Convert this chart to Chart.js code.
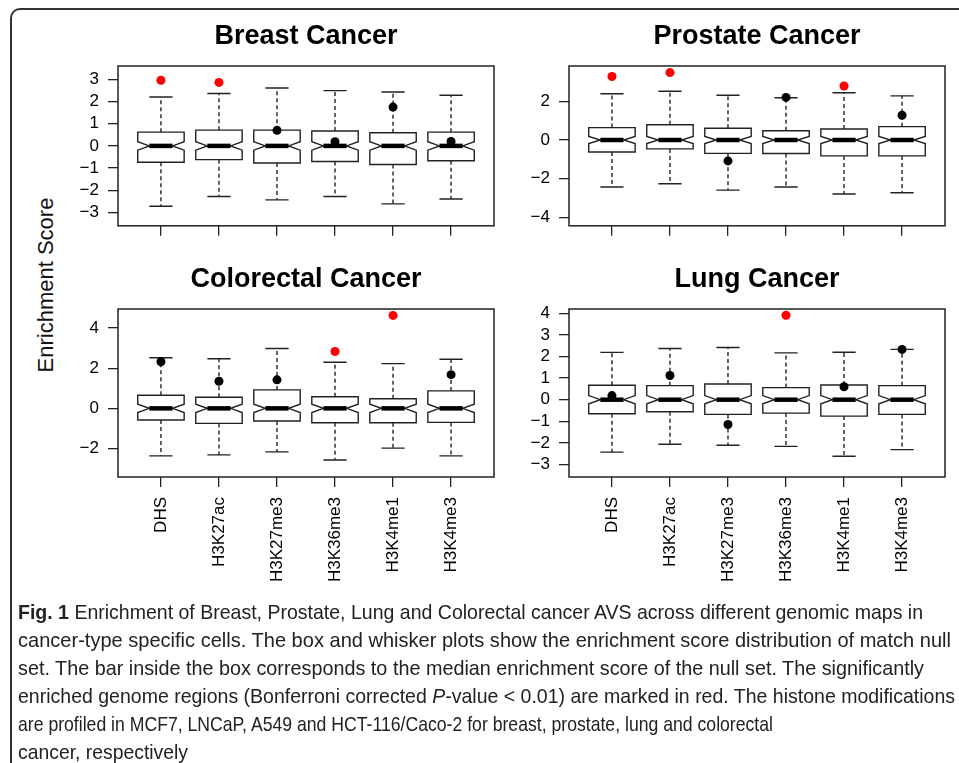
<!DOCTYPE html>
<html>
<head>
<meta charset="utf-8">
<script src="https://cdn.jsdelivr.net/npm/chart.js@4.4.1/dist/chart.umd.min.js"></script>
<style>
  body { margin: 0; background: #fff; width: 959px; height: 763px; overflow: hidden; position: relative; }
  #frame { position: absolute; left: 10px; top: 8px; width: 1000px; height: 800px; border: 2px solid #333; border-radius: 10px; }
  canvas { position: absolute; }
  #ylab { position: absolute; left: 46px; top: 285px; transform: translate(-50%, -50%) rotate(-90deg); font: 22px "Liberation Sans", Arial, sans-serif; color: #111; white-space: nowrap; }
  #caption { position: absolute; left: 18px; top: 598px; font-size: 21px; line-height: 28px; color: #222;
    font-family: "Liberation Sans", Arial, sans-serif; }
  #caption div { white-space: nowrap; height: 28px; }
  #caption span { display: inline-block; transform-origin: 0 50%; }
</style>
</head>
<body>
<div id="frame"></div>
<div id="ylab">Enrichment Score</div>
<canvas id="breast" width="496" height="235" style="left:58px; top:10px"></canvas>
<canvas id="prostate" width="496" height="235" style="left:509px; top:10px"></canvas>
<canvas id="colorectal" width="496" height="350" style="left:58px; top:250px"></canvas>
<canvas id="lung" width="496" height="350" style="left:509px; top:250px"></canvas>
<div id="caption">
  <div><span data-w="905"><b>Fig. 1</b> Enrichment of Breast, Prostate, Lung and Colorectal cancer AVS across different genomic maps in</span></div>
  <div><span data-w="933">cancer-type specific cells. The box and whisker plots show the enrichment score distribution of match null</span></div>
  <div><span data-w="906">set. The bar inside the box corresponds to the median enrichment score of the null set. The significantly</span></div>
  <div><span data-w="937">enriched genome regions (Bonferroni corrected <i>P</i>-value &lt; 0.01) are marked in red. The histone modifications</span></div>
  <div><span data-w="755">are profiled in MCF7, LNCaP, A549 and HCT-116/Caco-2 for breast, prostate, lung and colorectal</span></div>
  <div><span data-w="170">cancer, respectively</span></div>
</div>
<script>
// genomic maps (x categories)
const mapNames = ["DHS", "H3K27ac", "H3K27me3", "H3K36me3", "H3K4me1", "H3K4me3"];

// null set boxes: [lower whisker, Q1, median, Q3, upper whisker]
const breastBox = [[-2.72, -0.74, 0, 0.62, 2.20], [-2.28, -0.62, 0, 0.71, 2.36], [-2.43, -0.77, 0, 0.71, 2.61],
                   [-2.28, -0.70, 0, 0.67, 2.49], [-2.61, -0.84, 0, 0.59, 2.43], [-2.39, -0.67, 0, 0.62, 2.28]];
const prostateBox = [[-2.43, -0.62, 0, 0.64, 2.39], [-2.26, -0.46, 0, 0.79, 2.52], [-2.59, -0.69, 0, 0.61, 2.31],
                     [-2.43, -0.70, 0, 0.48, 2.18], [-2.79, -0.82, 0, 0.57, 2.44], [-2.72, -0.82, 0, 0.69, 2.28]];
const colorectalBox = [[-2.37, -0.58, 0, 0.65, 2.52], [-2.32, -0.75, 0, 0.55, 2.47], [-2.17, -0.63, 0, 0.92, 2.98],
                       [-2.57, -0.72, 0, 0.58, 2.30], [-1.98, -0.72, 0, 0.48, 2.23], [-2.37, -0.70, 0, 0.87, 2.45]];
const lungBox = [[-2.43, -0.65, 0, 0.67, 2.19], [-2.06, -0.56, 0, 0.65, 2.37], [-2.11, -0.68, 0, 0.73, 2.42],
                 [-2.16, -0.62, 0, 0.56, 2.17], [-2.62, -0.76, 0, 0.68, 2.20], [-2.31, -0.68, 0, 0.65, 2.33]];

// notch half heights
const notchSize = { breast: 0.19, prostate: 0.18, colorectal: 0.21, lung: 0.19 };

// observed AVS enrichment scores
const breastScore = [2.96, 2.86, 0.70, 0.19, 1.75, 0.20];
const prostateScore = [3.28, 3.48, -1.08, 2.20, 2.79, 1.28];
const colorectalScore = [2.32, 1.35, 1.42, 2.83, 4.63, 1.68];
const lungScore = [0.19, 1.12, -1.15, 3.91, 0.60, 2.33];

// significant after Bonferroni (red)
const breastSig = [1, 1, 0, 0, 0, 0];
const prostateSig = [1, 1, 0, 0, 1, 0];
const colorectalSig = [0, 0, 0, 1, 1, 0];
const lungSig = [0, 0, 0, 1, 0, 0];

// y tick labels
const breastTicks = [-3, -2, -1, 0, 1, 2, 3];
const prostateTicks = [-4, -2, 0, 2];
const colorectalTicks = [-2, 0, 2, 4];
const lungTicks = [-3, -2, -1, 0, 1, 2, 3, 4];

const fontFam = '"Liberation Sans", Arial, Helvetica, sans-serif';
const lineCol = '#222';

const notchedBoxes = {
  id: 'notchedBoxes',
  beforeDatasetsDraw(chart) {
    const ctx = chart.ctx;
    const xs = chart.scales.x, ys = chart.scales.y, a = chart.chartArea;
    const ds = chart.data.datasets[0];
    ctx.save();
    ctx.strokeStyle = lineCol;
    ctx.lineWidth = 1.5;
    ctx.strokeRect(a.left, a.top, a.right - a.left, a.bottom - a.top);
    ds.boxes.forEach(function(b, i) {
      const x = xs.getPixelForValue(i + 1);
      const hw = xs.getPixelForValue(i + 1.4) - x;
      const nw = hw / 2;
      const lo = ys.getPixelForValue(b[0]), q1 = ys.getPixelForValue(b[1]);
      const med = ys.getPixelForValue(b[2]), q3 = ys.getPixelForValue(b[3]);
      const hi = ys.getPixelForValue(b[4]);
      const nHi = ys.getPixelForValue(b[2] + ds.notch), nLo = ys.getPixelForValue(b[2] - ds.notch);
      ctx.lineWidth = 1.4;
      // whiskers
      ctx.setLineDash([4, 3]);
      ctx.beginPath();
      ctx.moveTo(x, q3); ctx.lineTo(x, hi);
      ctx.moveTo(x, q1); ctx.lineTo(x, lo);
      ctx.stroke();
      ctx.setLineDash([]);
      ctx.beginPath();
      ctx.moveTo(x - nw, hi); ctx.lineTo(x + nw, hi);
      ctx.moveTo(x - nw, lo); ctx.lineTo(x + nw, lo);
      ctx.stroke();
      // notched box
      ctx.beginPath();
      ctx.moveTo(x - hw, q3); ctx.lineTo(x + hw, q3); ctx.lineTo(x + hw, nHi);
      ctx.lineTo(x + nw, med); ctx.lineTo(x + hw, nLo); ctx.lineTo(x + hw, q1);
      ctx.lineTo(x - hw, q1); ctx.lineTo(x - hw, nLo); ctx.lineTo(x - nw, med);
      ctx.lineTo(x - hw, nHi); ctx.closePath();
      ctx.fillStyle = '#fff';
      ctx.fill();
      ctx.stroke();
      // median bar
      ctx.lineWidth = 4.5;
      ctx.strokeStyle = '#000';
      ctx.beginPath();
      ctx.moveTo(x - nw, med); ctx.lineTo(x + nw, med);
      ctx.stroke();
      ctx.strokeStyle = lineCol;
    });
    ctx.restore();
  }
};

function minusLabel(v) {
  return v < 0 ? '\u2212' + Math.abs(v) : String(v);
}

function makePanel(id, title, boxes, notch, scores, sig, ticks, ymin, ymax, bottomRow) {
  const padTop = bottomRow ? 13.8 : 10.8;
  new Chart(document.getElementById(id), {
    type: 'scatter',
    data: {
      datasets: [{
        data: scores.map(function(v, i) { return { x: i + 1, y: v }; }),
        boxes: boxes,
        notch: notch,
        pointRadius: 4.5,
        pointBorderWidth: 0,
        pointBackgroundColor: sig.map(function(s) { return s ? '#ff0000' : '#000000'; })
      }]
    },
    options: {
      responsive: false,
      animation: false,
      events: [],
      devicePixelRatio: 1,
      layout: { padding: 0 },
      plugins: {
        legend: { display: false },
        tooltip: { enabled: false },
        title: {
          display: true,
          text: title,
          color: '#000',
          font: { family: fontFam, size: 27, weight: 'bold', lineHeight: 1.2 },
          padding: { top: padTop, bottom: 12.8 }
        }
      },
      scales: {
        x: {
          type: 'linear',
          min: 0.26,
          max: 6.74,
          afterBuildTicks: function(s) { s.ticks = mapNames.map(function(n, i) { return { value: i + 1 }; }); },
          afterFit: function(s) { s.height = bottomRow ? 123 : 12; },
          border: { display: false },
          grid: { drawOnChartArea: false, drawTicks: true, tickLength: 10, color: lineCol, lineWidth: 1.3 },
          ticks: {
            display: bottomRow,
            autoSkip: false,
            minRotation: 90,
            maxRotation: 90,
            padding: 10,
            color: '#000',
            font: { family: fontFam, size: 17 },
            callback: function(v) { return mapNames[v - 1]; }
          }
        },
        y: {
          min: ymin,
          max: ymax,
          afterBuildTicks: function(s) { s.ticks = ticks.map(function(t) { return { value: t }; }); },
          afterFit: function(s) { s.width = 60; },
          border: { display: false },
          grid: { drawOnChartArea: false, drawTicks: true, tickLength: 10, color: lineCol, lineWidth: 1.3 },
          ticks: {
            padding: 9,
            color: '#000',
            font: { family: fontFam, size: 17 },
            callback: minusLabel
          }
        },
        // empty right-hand axis, same width as the left one, so the title sits over the plot box
        spacer: {
          type: 'linear',
          position: 'right',
          afterFit: function(s) { s.width = 60; },
          border: { display: false },
          grid: { display: false },
          ticks: { display: false }
        }
      }
    },
    plugins: [notchedBoxes]
  });
}

makePanel('breast', 'Breast Cancer', breastBox, notchSize.breast, breastScore, breastSig, breastTicks, -3.6, 3.6, false);
makePanel('prostate', 'Prostate Cancer', prostateBox, notchSize.prostate, prostateScore, prostateSig, prostateTicks, -4.43, 3.82, false);
makePanel('colorectal', 'Colorectal Cancer', colorectalBox, notchSize.colorectal, colorectalScore, colorectalSig, colorectalTicks, -3.42, 4.95, true);
makePanel('lung', 'Lung Cancer', lungBox, notchSize.lung, lungScore, lungSig, lungTicks, -3.58, 4.2, true);

// squeeze each caption line to the width of the printed one (condensed face)
document.querySelectorAll('#caption span').forEach(function(sp) {
  var k = Number(sp.dataset.w) / sp.getBoundingClientRect().width;
  sp.style.transform = 'scaleX(' + k + ')';
});
</script>
</body>
</html>
